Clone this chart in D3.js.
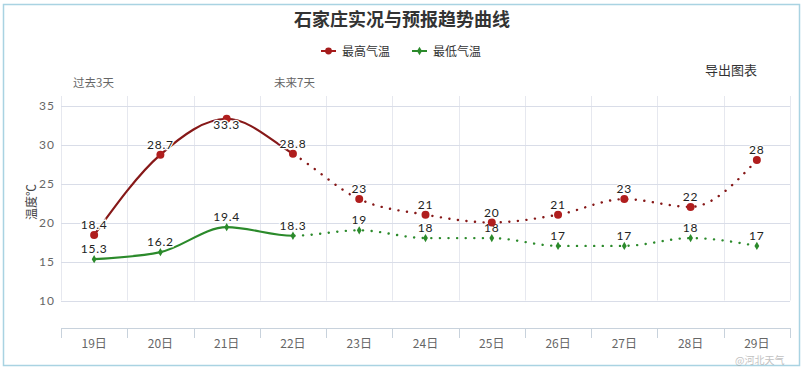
<!DOCTYPE html>
<html><head><meta charset="utf-8">
<script src="https://cdn.jsdelivr.net/npm/d3@7"></script>
<style>
body{margin:0;background:#fff;}
svg{display:block;font-family:"Noto Sans CJK SC","Noto Sans",sans-serif;}
</style></head>
<body><svg id="c" width="805" height="369"></svg>
<script>
const categories = ["19日","20日","21日","22日","23日","24日","25日","26日","27日","28日","29日"];
const highTemps = [18.4, 28.7, 33.3, 28.8, 23, 21, 20, 21, 23, 22, 28];
const lowTemps  = [15.3, 16.2, 19.4, 18.3, 19, 18, 18, 17, 17, 18, 17];
const yTicks = [10, 15, 20, 25, 30, 35];
const highLabels = ["18.4","28.7","33.3","28.8","23","21","20","21","23","22","28"];
const lowLabels  = ["15.3","16.2","19.4","18.3","19","18","18","17","17","18","17"];
const splitIndex = 3; // observed up to 22日, forecast after

const svg = d3.select("#c");
const L = 61, R = 790, T = 96, B = 300.5;
const x = d3.scaleBand().domain(categories).range([L, R]);
const y = d3.scaleLinear().domain([10, 35]).range([300.5, 105.5]);
const cx = d => x(d) + x.bandwidth()/2;

// outer border
svg.append("rect").attr("x",3.5).attr("y",4.5).attr("width",796).attr("height",361)
  .attr("fill","#fff").attr("stroke","#a9d3e2").attr("stroke-width",1.5);

// title
svg.append("text").attr("x",402).attr("y",26).attr("text-anchor","middle")
  .attr("font-size",18).attr("font-weight","bold").attr("fill","#333").text("石家庄实况与预报趋势曲线");

// legend
const leg = [{t:"最高气温",c:"#a51b1b",x:321,sym:"circle"},{t:"最低气温",c:"#2b8a2b",x:412,sym:"diamond"}];
leg.forEach(l=>{
  svg.append("line").attr("x1",l.x).attr("x2",l.x+15).attr("y1",51).attr("y2",51).attr("stroke",l.c).attr("stroke-width",2);
  svg.append("path").attr("d",d3.symbol().type(l.sym==="circle"?d3.symbolCircle:d3.symbolDiamond).size(l.sym==="circle"?36:22)())
    .attr("transform",`translate(${l.x+7.5},51)`).attr("fill",l.c);
  svg.append("text").attr("x",l.x+21).attr("y",55.5).attr("font-size",12).attr("fill","#333").text(l.t);
});

// annotations
svg.append("text").attr("x",73).attr("y",87).attr("font-size",11.5).attr("fill","#666").text("过去3天");
svg.append("text").attr("x",274).attr("y",87).attr("font-size",11.5).attr("fill","#666").text("未来7天");
svg.append("text").attr("x",705).attr("y",75).attr("font-size",13).attr("fill","#333").text("导出图表");

// grid
const g = svg.append("g");
const edges = categories.map(c=>x(c)).concat([R]);
g.selectAll(".vg").data(edges).join("line")
  .attr("x1",d=>Math.round(d)+0.5).attr("x2",d=>Math.round(d)+0.5).attr("y1",T).attr("y2",B)
  .attr("stroke","#e6e8ef").attr("stroke-width",1);
g.selectAll(".hg").data(yTicks).join("line")
  .attr("x1",L).attr("x2",R).attr("y1",d=>Math.round(y(d))+0.5).attr("y2",d=>Math.round(y(d))+0.5)
  .attr("stroke","#d9dde8").attr("stroke-width",1);

// y tick labels
svg.selectAll(".yl").data(yTicks).join("text")
  .attr("x",55).attr("y",d=>y(d)+4.5).attr("text-anchor","end")
  .attr("font-size",12).attr("letter-spacing",1).attr("fill","#666").attr("font-family","Lato, 'Noto Sans', sans-serif").text(d=>d);

// y title
svg.append("text").attr("transform","translate(36,202) rotate(-90)").attr("text-anchor","middle")
  .attr("font-size",12).attr("fill","#444").text("温度℃");

// x axis (separate)
const xa = svg.append("g").attr("transform","translate(0,328)");
xa.append("line").attr("x1",L).attr("x2",R).attr("y1",0.5).attr("y2",0.5).attr("stroke","#c8d2dc");
xa.selectAll(".xt").data(edges).join("line")
  .attr("x1",d=>Math.round(d)+0.5).attr("x2",d=>Math.round(d)+0.5).attr("y1",0).attr("y2",10).attr("stroke","#c8d2dc");
xa.selectAll(".xl").data(categories).join("text")
  .attr("x",d=>cx(d)).attr("y",20).attr("text-anchor","middle").attr("font-size",12).attr("fill","#666").text(d=>d);

// clips
const defs = svg.append("defs");
const sx = cx(categories[splitIndex]);
defs.append("clipPath").attr("id","solid").append("rect").attr("x",0).attr("y",0).attr("width",sx).attr("height",369);
defs.append("clipPath").attr("id","dot").append("rect").attr("x",sx).attr("y",0).attr("width",805-sx).attr("height",369);

const line = d3.line().x((d,i)=>cx(categories[i])).y(d=>y(d)).curve(d3.curveMonotoneX);

function series(vals, labels, color, lineColor, sym, size){
  svg.append("path").attr("d",line(vals)).attr("fill","none").attr("stroke",lineColor).attr("stroke-width",2.2)
    .attr("clip-path","url(#solid)");
  svg.append("path").attr("d",line(vals)).attr("fill","none").attr("stroke",lineColor).attr("stroke-width",2.4)
    .attr("stroke-dasharray","0.1 8.5").attr("stroke-linecap","round").attr("clip-path","url(#dot)");
  svg.selectAll(null).data(vals).join("path")
    .attr("d",d3.symbol().type(sym).size(size)())
    .attr("transform",(d,i)=>`translate(${cx(categories[i])},${y(d)})`).attr("fill",color);
  svg.selectAll(null).data(vals).join("text")
    .attr("x",(d,i)=>cx(categories[i]))
    .attr("y",d=> (y(d)-18 < 105.5) ? y(d)+10 : y(d)-6)
    .attr("text-anchor","middle").attr("font-size",12).attr("letter-spacing",0.8)
    .attr("font-family","Lato, 'Noto Sans', sans-serif")
    .attr("fill","#222").attr("stroke","#fff").attr("stroke-width",2.5).attr("paint-order","stroke")
    .text((d,i)=>labels[i]);
}
series(lowTemps, lowLabels, "#2b8a2b", "#2b8a2b", d3.symbolDiamond, 20);
series(highTemps, highLabels, "#b01e1e", "#861818", d3.symbolCircle, 50);

// watermark
svg.append("text").attr("x",735).attr("y",363.5).attr("font-size",10).attr("fill","#999").attr("opacity",0.6)
  .text("@河北天气");
</script></body></html>
